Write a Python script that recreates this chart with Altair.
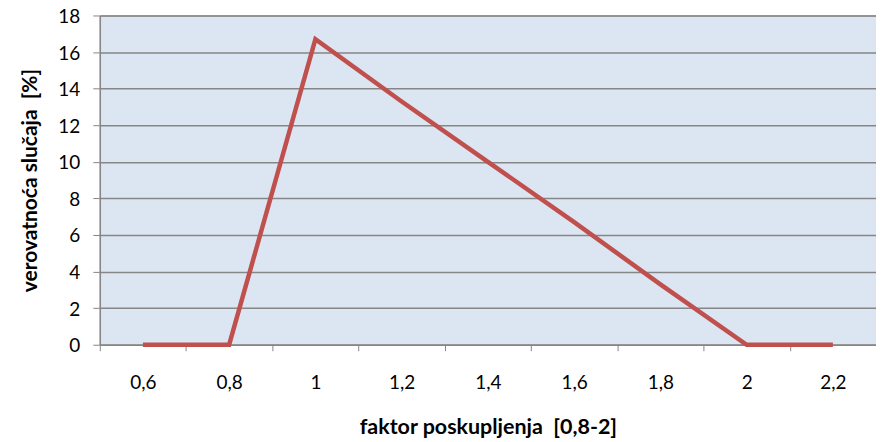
import altair as alt
import pandas as pd

categories = ["0,6", "0,8", "1", "1,2", "1,4", "1,6", "1,8", "2", "2,2"]
values = [0, 0, 16.7, 13.3, 10.0, 6.7, 3.3, 0, 0]

df = pd.DataFrame({"faktor": categories, "p": values})

FONT = "Lato"

chart = alt.Chart(df).mark_line(color="#C0504D", strokeWidth=4.5, strokeJoin="miter").encode(
    x=alt.X("faktor:N", sort=categories,
            scale=alt.Scale(paddingInner=0, paddingOuter=0),
            axis=alt.Axis(title="faktor poskupljenja\u00a0\u00a0[0,8-2]", labelAngle=0,
                          tickBand="extent", tickSize=6, tickColor="#868686",
                          domainColor="#868686", domainWidth=1.5, grid=False,
                          labelPadding=23, labelFontSize=19, labelColor="#000000",
                          titleFontSize=21.5, titleFontWeight="bold", titlePadding=24,
                          labelFont=FONT, titleFont=FONT, titleColor="#000000")),
    y=alt.Y("p:Q", scale=alt.Scale(domain=[0, 18], nice=False),
            axis=alt.Axis(title="verovatnoća slučaja\u00a0\u00a0[%]", values=list(range(0, 19, 2)),
                          tickSize=7, tickColor="#868686", domainColor="#868686",
                          domainWidth=1.5, gridColor="#868686", gridWidth=1.5,
                          labelPadding=13, labelFontSize=19, labelColor="#000000",
                          labelOffset=1,
                          titleFontSize=21, titleFontWeight="bold", titlePadding=17,
                          labelFont=FONT, titleFont=FONT, titleColor="#000000")),
).properties(
    width=778, height=330,
    autosize=alt.AutoSizeParams(type="none"),
    padding={"left": 92, "top": 7, "right": 0, "bottom": 96},
).configure_view(fill="#DCE6F2", stroke="#868686", strokeWidth=1)

chart.save("out.html", embed_options={"renderer": "svg", "actions": False})
